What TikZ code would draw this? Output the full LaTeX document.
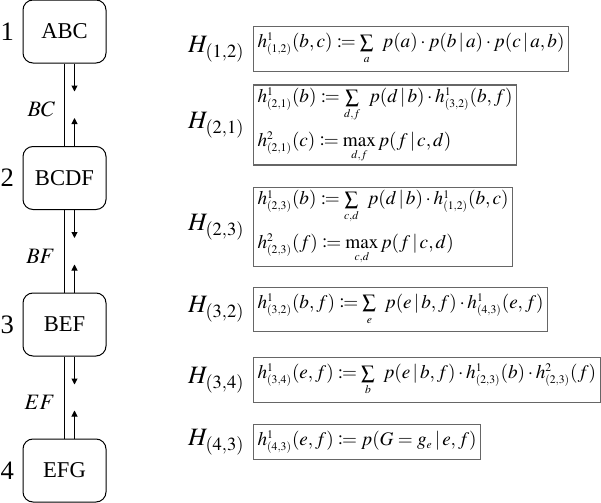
\documentclass[tikz,border=0pt]{standalone}
\usepackage{mathptmx}
\usepackage{mathtools}
\usepackage{fontspec}
\setmainfont{Liberation Serif}
\usetikzlibrary{arrows.meta,positioning,calc}

\DeclareMathSizes{9.6}{9.6}{5.8}{4.8}
\newcommand{\given}{\,|\,}
\tikzset{
  clique/.style={draw, line width=0.5pt, rounded corners=5pt, minimum width=41.5pt, minimum height=31.5pt, inner sep=0pt, font=\fontsize{11.3}{13}\selectfont},
  cnum/.style={inner sep=0pt, font=\fontsize{13.3}{15}\selectfont},
  sepset/.style={inner sep=0pt, anchor=east, font=\fontsize{11}{13}\selectfont},
  msg/.style={draw=black!60, line width=0.6pt, inner xsep=2pt, inner ysep=3.2pt, anchor=west, font=\fontsize{9.6}{11}\selectfont},
  msgtwo/.style={msg, inner ysep=1.2pt},
  hlab/.style={inner sep=0pt, font=\fontsize{12.5}{14}\selectfont},
}

\begin{document}
\begin{tikzpicture}[x=0.5pt, y=-0.5pt, >={Triangle[length=3pt,width=3pt]}, line width=0.5pt]
    \useasboundingbox (0,0) rectangle (601,503);

    % clique tree
    \node[clique] (c1) at (64.5,31.5) {ABC};
    \node[clique] (c2) at (64.5,178) {BCDF};
    \node[clique] (c3) at (64.5,324.5) {BEF};
    \node[clique] (c4) at (64.5,470.5) {EFG};

    \foreach \i in {1,...,4}
        \node[cnum, left=4pt of c\i] (n\i) {\i};

    \foreach \a/\b/\s in {c1/c2/BC, c2/c3/BF, c3/c4/EF} {
        \draw (\a.south) -- (\b.north);
        \draw[->] ([xshift=5pt]\a.south) -- ++(0,-14pt);
        \draw[->] ([xshift=5pt]\b.north) -- ++(0,14pt);
        \node[sepset] (s\a) at ($(\a.south)!0.5!(\b.north) + (-4.5pt,-2.5pt)$) {$\s$};
    }

    % messages
    \node[msg] (m12) at (253,49)
        {$h^1_{(1,2)}(b,c) \coloneqq \sum\limits_{a}\;\, p(a)\cdot p(b\given a)\cdot p(c\given a,b)$};
    \node[msgtwo] (m21) at (253,125)
        {$\begin{array}{@{}l@{}}
         h^1_{(2,1)}(b) \coloneqq \sum\limits_{d,f}\;\, p(d\given b)\cdot h^1_{(3,2)}(b,f)\\ \noalign{\vskip 4.5pt}
         h^2_{(2,1)}(c) \coloneqq \max\limits_{d,f} p(f\given c,d)
         \end{array}$};
    \node[msgtwo] (m23) at (253,227)
        {$\begin{array}{@{}l@{}}
         h^1_{(2,3)}(b) \coloneqq \sum\limits_{c,d}\;\, p(d\given b)\cdot h^1_{(1,2)}(b,c)\\ \noalign{\vskip 4.5pt}
         h^2_{(2,3)}(f) \coloneqq \max\limits_{c,d} p(f\given c,d)
         \end{array}$};
    \node[msg] (m32) at (253,309.5)
        {$h^1_{(3,2)}(b,f) \coloneqq \sum\limits_{e}\;\, p(e\given b,f)\cdot h^1_{(4,3)}(e,f)$};
    \node[msg] (m34) at (253,380)
        {$h^1_{(3,4)}(e,f) \coloneqq \sum\limits_{b}\;\, p(e\given b,f)\cdot h^1_{(2,3)}(b)\cdot h^2_{(2,3)}(f)$};
    \node[msg] (m43) at (253,442)
        {$h^1_{(4,3)}(e,f) \coloneqq p(G=g_e\given e,f)$};

    \foreach \m/\k in {12/{1,2}, 21/{2,1}, 23/{2,3}, 32/{3,2}, 34/{3,4}, 43/{4,3}}
        \node[hlab, left=4pt of m\m] (H\m) {$H_{(\k)}$};
\end{tikzpicture}
\end{document}
